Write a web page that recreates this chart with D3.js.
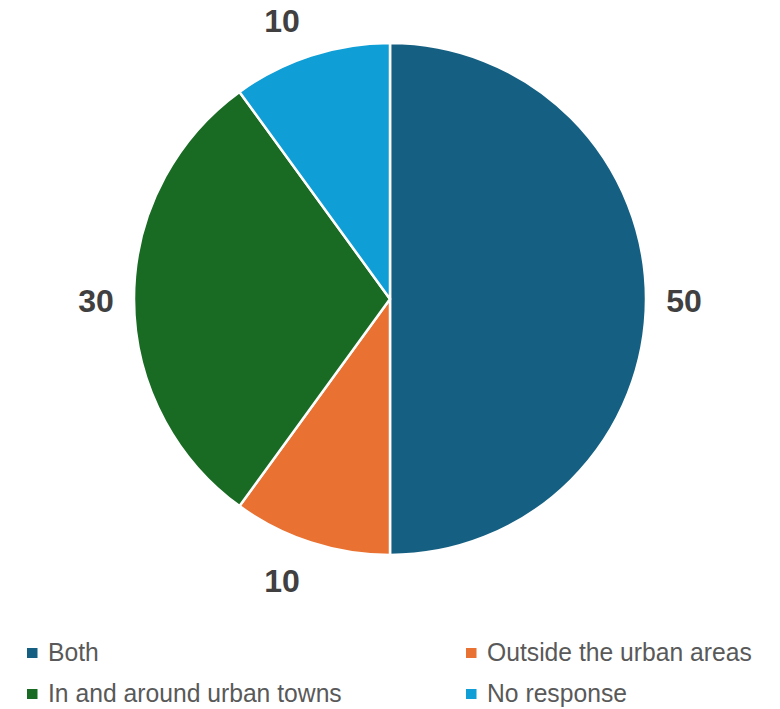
<!DOCTYPE html>
<html>
<head>
<meta charset="utf-8">
<script src="https://cdn.jsdelivr.net/npm/d3@7"></script>
<style>
  html, body { margin: 0; padding: 0; background: #fff; }
  svg { display: block; }
</style>
</head>
<body>
<svg id="chart" width="780" height="709"></svg>
<script>
// Survey answers: where respondents are located
const categories = ["Both", "Outside the urban areas", "In and around urban towns", "No response"];
const values = [50, 10, 30, 10];
const colors = ["#156082", "#E97132", "#196B24", "#0F9ED5"];

const svg = d3.select("#chart");
const cx = 390, cy = 299, radius = 256;

const data = categories.map((c, i) => ({ name: c, value: values[i], color: colors[i] }));

const pie = d3.pie().value(d => d.value).sort(null);
const arcs = pie(data);
const arc = d3.arc().innerRadius(0).outerRadius(radius);

const g = svg.append("g").attr("transform", `translate(${cx},${cy})`);

g.selectAll("path.slice")
  .data(arcs)
  .join("path")
  .attr("class", "slice")
  .attr("d", arc)
  .attr("fill", d => d.data.color)
  .attr("stroke", "#ffffff")
  .attr("stroke-width", 2.5)
  .attr("stroke-linejoin", "round");

// Value labels placed just outside each slice's outer edge; labels near the
// top/bottom are pushed sideways so they clear the rim.
const labelR = 294;
function labelPos(d) {
  const a = (d.startAngle + d.endAngle) / 2;
  const s = Math.sin(a), c = Math.cos(a);
  const x = s * labelR + s * Math.abs(c) * 58;
  const y = -c * labelR + 2;
  return [x, y];
}

g.selectAll("text.val")
  .data(arcs)
  .join("text")
  .attr("class", "val")
  .attr("transform", d => `translate(${labelPos(d)})`)
  .attr("text-anchor", "middle")
  .attr("dominant-baseline", "central")
  .attr("font-family", "'Liberation Sans', Arial, sans-serif")
  .attr("font-weight", "bold")
  .attr("font-size", 32)
  .attr("fill", "#404040")
  .text(d => d.data.value);

// Legend, two columns
const legendCols = [27, 466];
const legendRows = [661, 702];
const legend = svg.append("g");
const items = legend.selectAll("g.item")
  .data(data)
  .join("g")
  .attr("class", "item")
  .attr("transform", (d, i) => `translate(${legendCols[i % 2]},${legendRows[Math.floor(i / 2)]})`);

items.append("rect")
  .attr("x", 0)
  .attr("y", -13)
  .attr("width", 10.5)
  .attr("height", 10)
  .attr("fill", d => d.color);

items.append("text")
  .attr("transform", "translate(21,0) scale(0.95,1)")
  .attr("font-family", "'Liberation Sans', Arial, sans-serif")
  .attr("font-size", 26)
  .attr("fill", "#595959")
  .text(d => d.name);
</script>
</body>
</html>
